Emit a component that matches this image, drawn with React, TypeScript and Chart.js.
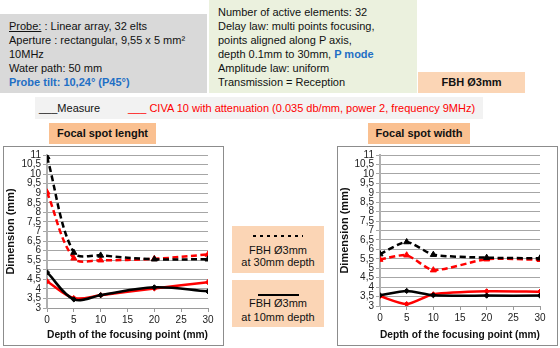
import React, { useEffect, useRef } from "react";
import { Chart, registerables } from "chart.js";
Chart.register(...registerables);

const depths = [0, 5, 10, 20, 30];
const yMin = 3;
const yMax = 11;
const yStep = 0.5;
const xStep = 5;

// Focal spot length
const lengthMeasure30 = [10.9, 5.9, 5.75, 5.55, 5.55];
const lengthCiva30 = [9.05, 5.6, 5.5, 5.57, 5.8];
const lengthMeasure10 = [4.87, 3.45, 3.67, 4.08, 3.87];
const lengthCiva10 = [4.4, 3.52, 3.67, 4.02, 4.35];

// Focal spot width
const widthMeasure30 = [5.75, 6.39, 5.72, 5.56, 5.53];
const widthCiva30 = [5.46, 5.69, 4.9, 5.48, 5.45];
const widthMeasure10 = [3.57, 3.8, 3.57, 3.55, 3.55];
const widthCiva10 = [3.52, 3.1, 3.62, 3.78, 3.76];

const FONT = '"Liberation Sans", Arial, sans-serif';

type Series = { data: number[]; color: string; dashed: boolean };

function toPoints(v: number[]) {
  return depths.map((d, i) => ({ x: d, y: v[i] }));
}

function makeDataset(s: Series, tension: number) {
  return {
    data: toPoints(s.data),
    borderColor: s.color,
    backgroundColor: s.color,
    borderWidth: 2.5,
    borderDash: s.dashed ? [6, 3.5] : [],
    pointStyle: s.dashed ? "triangle" : "rectRot",
    pointRadius: s.dashed ? 3.5 : 2.6,
    pointBorderWidth: 1,
    tension,
    fill: false,
  };
}

function ChartBox(props: {
  left: number;
  top: number;
  width: number;
  height: number;
  series: Series[];
  yWidth: number;
  xHeight: number;
  padTop: number;
  padRight: number;
  tension: number;
}) {
  const ref = useRef<HTMLCanvasElement | null>(null);
  const cw = props.width - 2;
  const ch = props.height - 2;
  useEffect(() => {
    if (!ref.current) return;
    const chart = new Chart(ref.current, {
      type: "line",
      data: { datasets: props.series.map((s) => makeDataset(s, props.tension)) as any },
      options: {
        animation: false,
        responsive: false,
        devicePixelRatio: 1,
        layout: { padding: { top: props.padTop, right: props.padRight, left: 0, bottom: 0 } },
        plugins: { legend: { display: false }, tooltip: { enabled: false } },
        scales: {
          x: {
            type: "linear",
            min: 0,
            max: 30,
            afterFit: (s: any) => {
              s.height = props.xHeight;
            },
            ticks: {
              stepSize: xStep,
              color: "#222",
              font: { family: FONT, size: 10 },
              padding: 2,
            },
            grid: {
              drawOnChartArea: false,
              drawTicks: true,
              tickLength: 4,
              color: "#9a9a9a",
            },
            border: { display: true, color: "#9a9a9a", width: 1 },
            title: {
              display: true,
              text: "Depth of the focusing point (mm)",
              color: "#111",
              font: { family: FONT, size: 11, weight: "bold" },
              padding: { top: 2, bottom: 3 },
            },
          },
          y: {
            min: yMin,
            max: yMax,
            afterFit: (s: any) => {
              s.width = props.yWidth;
            },
            ticks: {
              stepSize: yStep,
              autoSkip: false,
              color: "#222",
              font: { family: FONT, size: 10 },
              padding: 2,
              callback: (v: any) => String(v).replace(".", ","),
            },
            grid: {
              color: "#a6a6a6",
              lineWidth: 1,
              drawTicks: true,
              tickLength: 4,
            },
            border: { display: true, color: "#b0b0b0", width: 2 },
            title: {
              display: true,
              text: "Dimension (mm)",
              color: "#111",
              font: { family: FONT, size: 11, weight: "bold" },
              padding: { top: 0, bottom: 0 },
            },
          },
        },
      } as any,
    });
    return () => chart.destroy();
  }, []);
  return (
    <div
      style={{
        position: "absolute",
        left: props.left,
        top: props.top,
        width: props.width,
        height: props.height,
        border: "1px solid #8c8c8c",
        boxSizing: "border-box",
        background: "#fff",
      }}
    >
      <canvas ref={ref} width={cw} height={ch} style={{ display: "block", width: cw, height: ch }} />
    </div>
  );
}

const abs = (l: number, t: number, w: number, h: number, extra: any = {}) => ({
  position: "absolute" as const,
  left: l,
  top: t,
  width: w,
  height: h,
  boxSizing: "border-box" as const,
  ...extra,
});

export default function App() {
  const blue = "#1f6fc5";
  return (
    <div
      style={{
        position: "absolute",
        left: 0,
        top: 0,
        width: 560,
        height: 348,
        overflow: "hidden",
        background: "#fff",
        fontFamily: FONT,
        fontSize: 11,
        color: "#111",
      }}
    >
      <div style={abs(0, 14, 207, 79, { background: "#d9d9d9", padding: "5px 0 0 9px", lineHeight: "14px", whiteSpace: "nowrap" })}>
        <div>
          <span style={{ textDecoration: "underline" }}>Probe:</span> : Linear array, 32 elts
        </div>
        <div>Aperture : rectangular, 9,55 x 5 mm²</div>
        <div>10MHz</div>
        <div>Water path: 50 mm</div>
        <div style={{ color: blue, fontWeight: "bold" }}>Probe tilt: 10,24° (P45°)</div>
      </div>
      <div style={abs(209, 0, 208, 93, { background: "#ebf1de", padding: "5px 0 0 9px", lineHeight: "14px", whiteSpace: "nowrap" })}>
        <div>Number of active elements: 32</div>
        <div>Delay law: multi points focusing,</div>
        <div>points aligned along P axis,</div>
        <div>
          depth 0.1mm to 30mm, <span style={{ color: blue, fontWeight: "bold" }}>P mode</span>
        </div>
        <div>Amplitude law: uniform</div>
        <div>Transmission = Reception</div>
      </div>
      <div style={abs(418, 72, 107, 21, { background: "#fbd5b5", textAlign: "center", lineHeight: "21px", fontWeight: "bold" })}>
        FBH Ø3mm
      </div>
      <div style={abs(35, 97, 448, 22, { background: "#f2f2f2", lineHeight: "22px", whiteSpace: "nowrap" })}>
        <span style={{ position: "absolute", left: 4 }}>___Measure</span>
        <span style={{ position: "absolute", left: 93, color: "#ff0000" }}>
          ___ CIVA 10 with attenuation (0.035 db/mm, power 2, frequency 9MHz)
        </span>
      </div>
      <div style={abs(49, 123, 107, 21, { background: "#fac090", textAlign: "center", lineHeight: "21px", fontWeight: "bold" })}>
        Focal spot lenght
      </div>
      <div style={abs(368, 123, 102, 21, { background: "#fac090", textAlign: "center", lineHeight: "21px", fontWeight: "bold" })}>
        Focal spot width
      </div>

      <ChartBox
        left={3}
        top={146}
        width={221}
        height={200}
        yWidth={43}
        xHeight={37}
        padTop={8}
        padRight={15}
        tension={0.35}
        series={[
          { data: lengthMeasure30, color: "#000000", dashed: true },
          { data: lengthCiva30, color: "#ff0000", dashed: true },
          { data: lengthMeasure10, color: "#000000", dashed: false },
          { data: lengthCiva10, color: "#ff0000", dashed: false },
        ]}
      />
      <ChartBox
        left={337}
        top={146}
        width={221}
        height={200}
        yWidth={42}
        xHeight={39}
        padTop={5}
        padRight={17}
        tension={0.22}
        series={[
          { data: widthMeasure30, color: "#000000", dashed: true },
          { data: widthCiva30, color: "#ff0000", dashed: true },
          { data: widthMeasure10, color: "#000000", dashed: false },
          { data: widthCiva10, color: "#ff0000", dashed: false },
        ]}
      />

      <div style={abs(232, 226, 92, 47, { background: "#fbd5b5", textAlign: "center", lineHeight: "12px" })}>
        <div
          style={{
            position: "absolute",
            left: 21,
            top: 9,
            width: 50,
            height: 1.5,
            background: "repeating-linear-gradient(to right, #000 0 3px, transparent 3px 7px)",
          }}
        />
        <div style={{ position: "absolute", left: 0, right: 0, top: 18 }}>
          FBH Ø3mm
          <br />
          at 30mm depth
        </div>
      </div>
      <div style={abs(232, 280, 92, 47, { background: "#fbd5b5", textAlign: "center", lineHeight: "14px" })}>
        <div style={{ position: "absolute", left: 26, top: 14, width: 41, height: 1.5, background: "#000" }} />
        <div style={{ position: "absolute", left: 0, right: 0, top: 16 }}>
          FBH Ø3mm
          <br />
          at 10mm depth
        </div>
      </div>
    </div>
  );
}
